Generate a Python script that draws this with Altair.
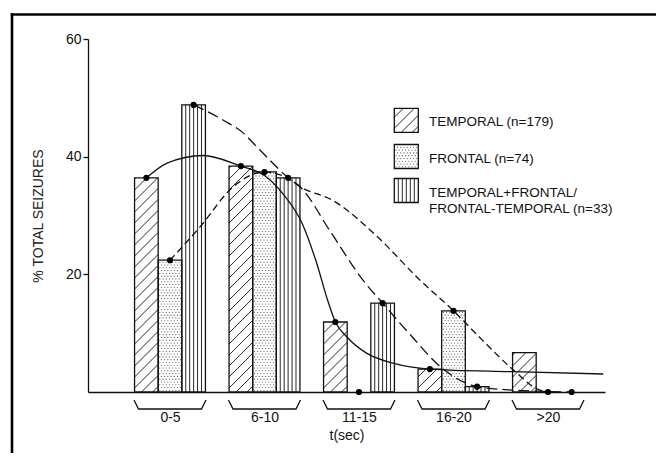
import json
import altair as alt
import pandas as pd

# ---------------- data ----------------
groups = ["0-5", "6-10", "11-15", "16-20", ">20"]
temporal = [36.4, 38.4, 11.9, 3.9, 6.7]
frontal = [22.4, 37.4, 0.0, 13.8, 0.0]
combo = [48.8, 36.4, 15.1, 0.9, 0.0]
temporal_dot = [1, 1, 1, 1, 0]
frontal_dot = [1, 1, 1, 1, 1]
combo_dot = [1, 1, 1, 1, 1]
legend_labels = ["TEMPORAL (n=179)", "FRONTAL (n=74)",
                 "TEMPORAL+FRONTAL/", "FRONTAL-TEMPORAL (n=33)"]
y_ticks = [20, 40, 60]

# hand-drawn fitted curves (x in group units, y in %)
temporal_curve_x = [-0.25, -0.03, 0.35, 0.75, 1.0, 1.2, 1.4, 1.55, 1.67, 1.75,
                    1.87, 2.08, 2.36, 2.75, 3.63, 4.585]
temporal_curve_y = [36.4, 38.9, 40.2, 38.4, 36.8, 33.6, 28.6, 22.0, 15.5, 11.9,
                    9.4, 6.6, 4.9, 3.9, 3.45, 3.06]
frontal_curve_x = [0.0, 0.32, 0.67, 1.0, 1.25, 1.376, 1.73, 2.2, 2.646, 3.0,
                   3.3, 3.616, 3.915, 4.0]
frontal_curve_y = [22.4, 28.1, 34.9, 37.4, 36.3, 34.9, 32.5, 26.3, 19.0, 13.8,
                   8.9, 4.0, 0.3, 0.0]
combo_curve_x = [0.25, 0.564, 0.776, 0.917, 1.076, 1.25, 1.376, 1.7, 2.042, 2.25,
                 2.55, 2.875, 3.25, 3.545, 4.25]
combo_curve_y = [48.8, 46.2, 44.0, 41.7, 39.1, 36.4, 34.9, 27.2, 19.0, 15.1,
                 9.6, 4.1, 0.9, 0.4, 0.0]

# ---------------- layout ----------------
FONT = "Liberation Sans"
INK = "#111111"
W, H = 517, 353
PXX = 94.5                 # pixels per group unit
PXY = H / 60.0             # pixels per percent
X0 = -0.8677
X1 = X0 + W / PXX
LEFT, TOP = 88, 39         # page position of plot origin


def dx(px):
    return X0 + (px - LEFT) / PXX


def dy(py):
    return (TOP + H - py) / PXY


BARW = 0.25
series_vals = [temporal, frontal, combo]
series_dots = [temporal_dot, frontal_dot, combo_dot]
kinds = ["hatch", "dots", "stripes"]

rects, rules, stip = [], [], []


def add_pattern(kind, xl, xr, yb, yt):
    w = (xr - xl) * PXX
    h = (yt - yb) * PXY
    if kind == "hatch":
        s = 11.0
        n0 = int(-w // s) - 1
        n1 = int(h // s) + 2
        for n in range(n0, n1):
            c = n * s + 4
            xs = max(0.0, -c)
            xe = min(w, h - c)
            if xe - xs > 0.6:
                rules.append(dict(x=xl + xs / PXX, x2=xl + xe / PXX,
                                  y=yb + (xs + c) / PXY, y2=yb + (xe + c) / PXY))
    elif kind == "stripes":
        for i in range(1, 6):
            xx = xl + (i * w / 6) / PXX
            rules.append(dict(x=xx, x2=xx, y=yb, y2=yt))
    else:
        step = 3.2
        r = 0
        yy = 1.7
        while yy < h - 1.0:
            off = 1.7 if r % 2 == 0 else 3.3
            xx = off
            while xx < w - 1.0:
                stip.append(dict(x=xl + xx / PXX, y=yb + yy / PXY))
                xx += step
            yy += step * 0.87
            r += 1


for k, vals in enumerate(series_vals):
    for g, v in enumerate(vals):
        if v <= 0:
            continue
        xl = g - 1.5 * BARW + k * BARW
        rects.append(dict(x=xl, x2=xl + BARW, y=0.0, y2=v))
        add_pattern(kinds[k], xl, xl + BARW, 0.0, v)

# legend boxes
leg_boxes = [(108.3, 132.3), (144.5, 168.5), (178.5, 202.5)]
for k, (t, b) in enumerate(leg_boxes):
    xl, xr = dx(394.3), dx(418.3)
    rects.append(dict(x=xl, x2=xr, y=dy(b), y2=dy(t)))
    add_pattern(kinds[k], xl, xr, dy(b), dy(t))

dots = []
for k, vals in enumerate(series_vals):
    for g, v in enumerate(vals):
        if series_dots[k][g]:
            dots.append(dict(x=g - BARW + k * BARW, y=v))

curves = []
for cid, (cx, cy) in enumerate([(temporal_curve_x, temporal_curve_y),
                                (frontal_curve_x, frontal_curve_y),
                                (combo_curve_x, combo_curve_y)]):
    for i, (a, b) in enumerate(zip(cx, cy)):
        curves.append(dict(c=cid, o=i, x=a, y=b))
curves = pd.DataFrame(curves)

brackets = []
for g in range(len(groups)):
    c = 170 + PXX * g
    for i, (px, py) in enumerate([(c - 36, 400), (c - 31.5, 409),
                                  (c + 31.5, 409), (c + 36, 400)]):
        brackets.append(dict(g=g, o=i, x=dx(px), y=dy(py)))

frame = [dict(x=dx(12), x2=dx(656), y=dy(14.5), y2=dy(14.5)),
         dict(x=dx(12), x2=dx(12), y=dy(14.5), y2=dy(453))]

legend_text = pd.DataFrame(dict(
    t=legend_labels,
    x=[dx(429)] * 4,
    y=[dy(122), dy(158.5), dy(192.5), dy(208.5)]))

# ---------------- encodings ----------------
xscale = alt.Scale(domain=[X0, X1], nice=False, zero=False)
yscale = alt.Scale(domain=[0, 60], nice=False, zero=False)
xaxis = alt.Axis(values=list(range(len(groups))),
                 labelExpr=json.dumps(groups) + "[datum.value]",
                 ticks=False, grid=False, domain=True, domainColor=INK,
                 domainWidth=1.3, labelFont=FONT, labelFontSize=14,
                 labelColor=INK, labelPadding=18, labelOverlap=False,
                 title="t(sec)", titleFont=FONT, titleFontSize=14,
                 titleFontWeight="normal", titleColor=INK, titlePadding=4)
yaxis = alt.Axis(values=y_ticks, grid=False, domain=True, domainColor=INK,
                 domainWidth=1.3, tickColor=INK, tickWidth=1.3, tickSize=5,
                 labelFont=FONT, labelFontSize=14, labelColor=INK,
                 labelPadding=2, title="% TOTAL SEIZURES", titleFont=FONT,
                 titleFontSize=14, titleFontWeight="normal", titleColor="#222222",
                 titlePadding=20)
X = alt.X("x:Q", scale=xscale, axis=xaxis)
Y = alt.Y("y:Q", scale=yscale, axis=yaxis)

frame_l = alt.Chart(pd.DataFrame(frame)).mark_rule(
    color="black", strokeWidth=2.6, strokeCap="square").encode(
    x=X, x2="x2:Q", y=Y, y2="y2:Q")

bars_fill = alt.Chart(pd.DataFrame(rects)).mark_rect(
    fill="white").encode(x=X, x2="x2:Q", y=Y, y2="y2:Q")

hatch_l = alt.Chart(pd.DataFrame(rules)).mark_rule(
    color=INK, strokeWidth=0.9).encode(x=X, x2="x2:Q", y=Y, y2="y2:Q")

stip_l = alt.Chart(pd.DataFrame(stip)).mark_circle(
    color="#4a4a4a", size=1.3, opacity=1).encode(x=X, y=Y)

bars_line = alt.Chart(pd.DataFrame(rects)).mark_rect(
    fill="white", fillOpacity=0, stroke=INK, strokeWidth=1.3).encode(
    x=X, x2="x2:Q", y=Y, y2="y2:Q")

t_curve = alt.Chart(curves[curves.c == 0]).mark_line(
    color=INK, strokeWidth=1.3, interpolate="monotone").encode(
    x=X, y=Y, order="o:Q")
f_curve = alt.Chart(curves[curves.c == 1]).mark_line(
    color=INK, strokeWidth=1.3, interpolate="monotone",
    strokeDash=[7, 4]).encode(x=X, y=Y, order="o:Q")
c_curve = alt.Chart(curves[curves.c == 2]).mark_line(
    color=INK, strokeWidth=1.3, interpolate="monotone",
    strokeDash=[11, 5]).encode(x=X, y=Y, order="o:Q")

dots_l = alt.Chart(pd.DataFrame(dots)).mark_circle(
    color="black", size=38, opacity=1).encode(x=X, y=Y)

brackets_l = alt.Chart(pd.DataFrame(brackets)).mark_line(
    color=INK, strokeWidth=1.3).encode(x=X, y=Y, detail="g:N", order="o:Q")

legend_l = alt.Chart(legend_text).mark_text(
    align="left", baseline="middle", font=FONT, fontSize=13.5,
    color=INK).encode(x=X, y=Y, text="t:N")

chart = alt.layer(
    frame_l, bars_fill, hatch_l, stip_l, bars_line,
    t_curve, f_curve, c_curve, dots_l, brackets_l, legend_l
).properties(
    width=W, height=H,
    autosize=alt.AutoSizeParams(type="none"),
    padding={"left": LEFT - 8, "top": TOP - 8, "right": 51, "bottom": 61},
    background="white",
).configure_view(stroke=None)

chart.save("out.html", embed_options={"renderer": "svg", "actions": False})
